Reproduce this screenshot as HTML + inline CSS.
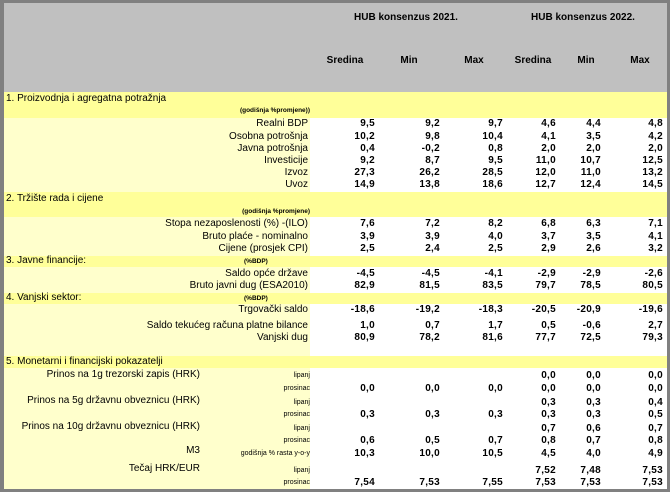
<!DOCTYPE html>
<html><head><meta charset="utf-8"><style>
*{margin:0;padding:0;box-sizing:border-box}
body{width:670px;height:492px;background:#808080;position:relative;overflow:hidden;font-family:"Liberation Sans",Arial,sans-serif;color:#000}
.a{position:absolute}
.t{position:absolute;height:12px;line-height:12px;font-size:10px;white-space:nowrap}
.n{font-weight:bold;text-align:right;letter-spacing:0.3px}
.s{font-size:7px;}
.b{font-weight:bold;font-size:6.5px}
</style></head><body>
<div class="a" style="left:4px;top:3px;width:663px;height:486px;background:#fff"></div>
<div class="a" style="left:4px;top:3px;width:663px;height:89px;background:#c0c0c0"></div>
<div class="a" style="left:4px;top:92px;width:306px;height:397px;background:#ffffcc"></div>
<div class="a" style="left:4px;top:92px;width:663px;height:26px;background:#ffff99"></div>
<div class="a" style="left:4px;top:192px;width:663px;height:25px;background:#ffff99"></div>
<div class="a" style="left:4px;top:256px;width:663px;height:11px;background:#ffff99"></div>
<div class="a" style="left:4px;top:293px;width:663px;height:11px;background:#ffff99"></div>
<div class="a" style="left:4px;top:356px;width:663px;height:12px;background:#ffff99"></div>
<div id="c"></div>
<script>
var H='';
function t(x,y,s,st,cls){H+='<div class="t '+(cls||'')+'" style="left:'+x+'px;top:'+(y-6)+'px;'+(st||'')+'">'+s+'</div>';}
function r(xr,y,s,cls){H+='<div class="t '+(cls||'')+'" style="right:'+(670-xr)+'px;top:'+(y-6)+'px;text-align:right">'+s+'</div>';}
var X=[375,440,503,556,601,663];
function nums(y,a){a.forEach(function(v,i){if(v!=='')r(X[i],y,v,'n');});}
t(354,18,'HUB konsenzus 2021.','font-weight:bold');
t(531,18,'HUB konsenzus 2022.','font-weight:bold');
[['Sredina',345],['Min',409],['Max',474],['Sredina',533],['Min',586],['Max',640]].forEach(function(h){H+='<div class="t" style="left:'+(h[1]-30)+'px;width:60px;text-align:center;top:55px;font-weight:bold">'+h[0]+'</div>';});
t(6,99,'1. Proizvodnja i agregatna potražnja');
r(310,111,'(godišnja %promjene))','b');
var d1=[['Realni BDP',124,['9,5','9,2','9,7','4,6','4,4','4,8']],['Osobna potrošnja',137,['10,2','9,8','10,4','4,1','3,5','4,2']],['Javna potrošnja',149,['0,4','-0,2','0,8','2,0','2,0','2,0']],['Investicije',161,['9,2','8,7','9,5','11,0','10,7','12,5']],['Izvoz',173,['27,3','26,2','28,5','12,0','11,0','13,2']],['Uvoz',185,['14,9','13,8','18,6','12,7','12,4','14,5']],
['Stopa nezaposlenosti (%) -(ILO)',224,['7,6','7,2','8,2','6,8','6,3','7,1']],['Bruto plaće - nominalno',237,['3,9','3,9','4,0','3,7','3,5','4,1']],['Cijene (prosjek CPI)',249,['2,5','2,4','2,5','2,9','2,6','3,2']],
['Saldo opće države',274,['-4,5','-4,5','-4,1','-2,9','-2,9','-2,6']],['Bruto javni dug (ESA2010)',286,['82,9','81,5','83,5','79,7','78,5','80,5']],
['Trgovački saldo',310,['-18,6','-19,2','-18,3','-20,5','-20,9','-19,6']],['Saldo tekućeg računa platne bilance',326,['1,0','0,7','1,7','0,5','-0,6','2,7']],['Vanjski dug',338,['80,9','78,2','81,6','77,7','72,5','79,3']]];
d1.forEach(function(d){r(308,d[1],d[0]);nums(d[1],d[2]);});
t(6,199,'2. Tržište rada i cijene');
r(310,212,'(godišnja %promjene)','b');
t(6,261,'3. Javne financije:');
t(244,262,'(%BDP)','','b');
t(6,298,'4. Vanjski sektor:');
t(244,299,'(%BDP)','','b');
t(6,362,'5. Monetarni i financijski pokazatelji');
var L=[['Prinos na 1g trezorski zapis (HRK)',375],['Prinos na 5g državnu obveznicu (HRK)',401],['Prinos na 10g državnu obveznicu (HRK)',427],['M3',451],['Tečaj HRK/EUR',469]];
L.forEach(function(l){r(200,l[1],l[0]);});
var S=[['lipanj',376,['','','','0,0','0,0','0,0']],['prosinac',389,['0,0','0,0','0,0','0,0','0,0','0,0']],['lipanj',403,['','','','0,3','0,3','0,4']],['prosinac',415,['0,3','0,3','0,3','0,3','0,3','0,5']],['lipanj',429,['','','','0,7','0,6','0,7']],['prosinac',441,['0,6','0,5','0,7','0,8','0,7','0,8']],['godišnja % rasta y-o-y',454,['10,3','10,0','10,5','4,5','4,0','4,9']],['lipanj',471,['','','','7,52','7,48','7,53']],['prosinac',483,['7,54','7,53','7,55','7,53','7,53','7,53']]];
S.forEach(function(s){r(310,s[1],s[0],'s');nums(s[1],s[2]);});
document.getElementById('c').innerHTML=H;
</script>
</body></html>
